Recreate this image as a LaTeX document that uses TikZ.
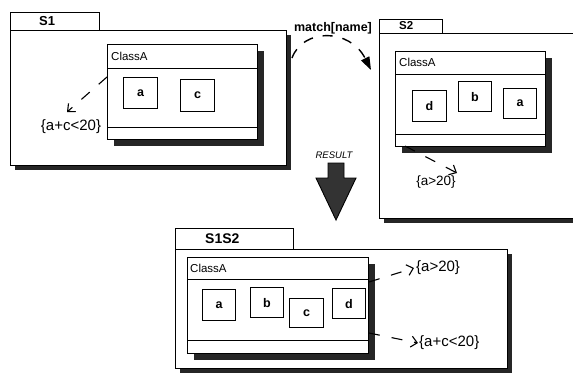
\documentclass[tikz,border=0pt]{standalone}
\usepackage{fontspec}
\setmainfont{Liberation Sans}
\usetikzlibrary{arrows.meta,shadows}
\tikzset{
  pkg/.style={draw, fill=white, line width=1pt, inner sep=0pt, anchor=north west},
  pkgshadow/.style={drop shadow={shadow xshift=4pt, shadow yshift=-4pt, fill=black!85, opacity=1}},
  cls/.style={draw, fill=white, line width=1pt, inner sep=0pt, anchor=north west,
    drop shadow={shadow xshift=6pt, shadow yshift=-6pt, fill=black!85, opacity=1}},
  attr/.style={draw, fill=white, line width=1.1pt, inner sep=0pt, anchor=north west,
    font=\fontsize{12.5}{12.5}\selectfont\bfseries},
  pkglabel/.style={anchor=west, inner sep=0pt, font=\bfseries},
  clslabel/.style={anchor=west, inner sep=0pt, font=\fontsize{11.5}{12}\selectfont},
  dep/.style={line width=1.1pt, dash pattern=on 11pt off 12pt, -{Straight Barb[length=6pt,width=11pt,line width=1.1pt]}},
  cons/.style={inner sep=0pt},
}
\begin{document}
\begin{tikzpicture}[x=1pt,y=-1pt]
\useasboundingbox (0,0) rectangle (573,373);
\clip (0,0) rectangle (573,373);
\fill[white] (0,0) rectangle (573,373);

% ---------------- S1 ----------------
\node[pkg, minimum width=89pt, minimum height=18pt] (s1tab) at (10,12) {};
\node[pkg, pkgshadow, minimum width=276pt, minimum height=135pt] (s1) at (10,30) {};
\node[pkglabel, font=\fontsize{13}{13}\selectfont\bfseries] (s1lab) at (39,21) {S1};
\node[cls, minimum width=150pt, minimum height=95pt] (c1) at (107,44) {};
\draw[line width=1pt] ([yshift=-24pt]c1.north west) -- ([yshift=-24pt]c1.north east);
\draw[line width=1pt] ([yshift=13pt]c1.south west) -- ([yshift=13pt]c1.south east);
\node[clslabel] (c1lab) at (111,56) {ClassA};
\node[attr, minimum width=34pt, minimum height=31pt] (c1a) at (123,77) {a};
\node[attr, minimum width=34pt, minimum height=32pt] (c1c) at (180,79) {c};
\node[cons, font=\fontsize{15}{15}\selectfont] (k1) at (71,127) {\{a+c<20\}};
\coordinate (k1s) at (107,77);
\coordinate (k1e) at (67,112);
\draw[dep] (k1s) -- (k1e);

% ---------------- S2 ----------------
\node[pkg, minimum width=63pt, minimum height=14pt] (s2tab) at (379,19) {};
\node[pkg, pkgshadow, minimum width=210pt, minimum height=185pt] (s2) at (379,33) {};
\node[pkglabel, font=\fontsize{11.5}{12}\selectfont\bfseries] (s2lab) at (399,26) {S2};
\node[cls, minimum width=150pt, minimum height=95pt] (c2) at (395,51) {};
\draw[line width=1pt] ([yshift=-23pt]c2.north west) -- ([yshift=-23pt]c2.north east);
\draw[line width=1pt] ([yshift=13pt]c2.south west) -- ([yshift=13pt]c2.south east);
\node[clslabel] (c2lab) at (399,62.5) {ClassA};
\node[attr, minimum width=34pt, minimum height=31pt] (c2d) at (412,90) {d};
\node[attr, minimum width=33pt, minimum height=30pt] (c2b) at (458,81) {b};
\node[attr, minimum width=33pt, minimum height=30pt] (c2a) at (503,88) {a};
\node[cons, font=\fontsize{13.5}{14}\selectfont] (k2) at (436,182) {\{a>20\}};
\coordinate (k2s) at (405,146);
\coordinate (k2e) at (457,173);
\draw[dep] (k2s) -- (k2e);

% ---------------- match arrow ----------------
\node[inner sep=0pt, font=\fontsize{12.5}{13}\selectfont\bfseries] (match) at (333,28) {match[name]};
\coordinate (m1) at (292,58);
\coordinate (m2) at (371,70);
\draw[line width=1.4pt, dash pattern=on 10pt off 10pt, -{Triangle[length=13pt,width=9pt]}]
  (m1) .. controls (303,28) and (350,28) .. (m2);

% ---------------- RESULT arrow ----------------
\node[inner sep=0pt, font=\fontsize{9.5}{10}\selectfont\itshape] (res) at (334,155) {RESULT};
\draw[line width=0.9pt, fill=black!80]
  (328,163) -- (344,163) -- (344,178) -- (356,178) -- (336,220) -- (316,178) -- (328,178) -- cycle;

% ---------------- S1S2 ----------------
\node[pkg, minimum width=118pt, minimum height=21pt] (s3tab) at (175,228) {};
\node[pkg, pkgshadow, minimum width=332pt, minimum height=119pt] (s3) at (175,249) {};
\node[pkglabel, font=\fontsize{14}{14}\selectfont\bfseries] (s3lab) at (205,238.5) {S1S2};
\node[cls, minimum width=181pt, minimum height=96pt] (c3) at (187,257) {};
\draw[line width=1pt] ([yshift=-22pt]c3.north west) -- ([yshift=-22pt]c3.north east);
\draw[line width=1pt] ([yshift=14pt]c3.south west) -- ([yshift=14pt]c3.south east);
\node[clslabel] (c3lab) at (190,268) {ClassA};
\node[attr, minimum width=33pt, minimum height=31pt] (c3a) at (202,289) {a};
\node[attr, minimum width=33pt, minimum height=30pt] (c3b) at (250,287) {b};
\node[attr, minimum width=34pt, minimum height=29pt] (c3c) at (289,298) {c};
\node[attr, minimum width=33pt, minimum height=30pt] (c3d) at (332,288) {d};
\node[cons, anchor=west, font=\fontsize{15}{15}\selectfont] (k3) at (416,268) {\{a>20\}};
\node[cons, anchor=west, font=\fontsize{15}{15}\selectfont] (k4) at (419,343) {\{a+c<20\}};
\coordinate (k3s) at (369,282);
\coordinate (k3e) at (414,268);
\coordinate (k4s) at (369,333);
\coordinate (k4e) at (418,343);
\draw[dep] (k3s) -- (k3e);
\draw[dep] (k4s) -- (k4e);
\end{tikzpicture}
\end{document}
